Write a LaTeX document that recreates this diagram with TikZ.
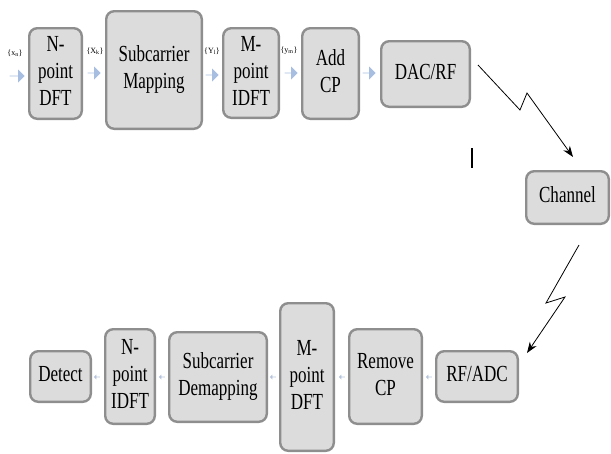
\documentclass[tikz,border=0pt]{standalone}
\usepackage{fontspec}
\setmainfont{LiberationSerif}[Extension=.ttf, UprightFont=*-Regular, BoldFont=*-Bold, ItalicFont=*-Italic, BoldItalicFont=*-BoldItalic]
\usepackage{graphicx}
\usepackage{tikz}
\usetikzlibrary{shapes.arrows}
\usetikzlibrary{arrows.meta}
\definecolor{boxfill}{HTML}{DCDCDC}
\definecolor{boxline}{HTML}{8E8E8E}
\definecolor{flowblue}{HTML}{A7BEE0}
\definecolor{backblue}{HTML}{B4C4DC}
% narrow the box captions
\newcommand{\squeeze}[1]{\scalebox{0.74}[1]{\begin{tabular}{@{}c@{}}#1\end{tabular}}}
\tikzset{block/.style={rounded corners=8pt, draw=boxline, fill=boxfill, line width=2.4pt, align=center, inner sep=0pt, font=\fontsize{23}{27}\selectfont}}
\tikzset{flow/.style={single arrow, fill=flowblue, draw=none, inner sep=0pt, minimum height=13pt, minimum width=13pt, single arrow head extend=2.5pt}}
\tikzset{backflow/.style={single arrow, fill=backblue, draw=none, inner sep=0pt, minimum height=6pt, minimum width=5pt, single arrow head extend=1pt, shape border rotate=180}}
\tikzset{sig/.style={font=\fontsize{8}{9}\selectfont}}

\begin{document}
\begin{tikzpicture}[x=1pt,y=-1pt]
    \useasboundingbox (0,0) rectangle (611,453);
    % transmitter chain
    \foreach \x/\y/\w/\h/\lab/\tx in {
      55.5/73.5/55/93/ndft/{N-\\point\\DFT},
      154/70/98/120/map/{Subcarrier\\Mapping},
      251/73/58/92/midft/{M-\\point\\IDFT},
      330.5/73.5/59/93/addcp/{Add\\CP},
      425.5/74/91/68/dac/{DAC/RF},
      567.5/197.5/85/55/chan/{Channel}%
    } {
      \node[block, minimum width=\w pt-2.4pt, minimum height=\h pt-2.4pt] (\lab) at (\x, \y) {\squeeze{\tx}};
    }
    % receiver chain
    \foreach \x/\y/\w/\h/\lab/\tx in {
      60.5/376.5/63/53/detect/{Detect},
      130/376.5/52/97/nidft/{N-\\point\\IDFT},
      218/377/100/92/demap/{Subcarrier\\Demapping},
      307/377/56/150/mdft/{M-\\point\\DFT},
      385.5/376.5/75/97/remcp/{Remove\\CP},
      477/376.5/84/53/rfadc/{RF/ADC}%
    } {
      \node[block, minimum width=\w pt-2.4pt, minimum height=\h pt-2.4pt] (\lab) at (\x, \y) {\squeeze{\tx}};
    }
    % forward arrows and signal names
    \node[flow, minimum height=15pt] (f0) at (17,76) {};
    \node[flow] (f1) at (94,73) {};
    \node[flow] (f2) at (212,75) {};
    \node[flow] (f3) at (291,73) {};
    \node[flow] (f4) at (369,73) {};
    \node[sig] (xn) at (15,53) {\{x\textsubscript{n}\}};
    \node[sig] (xk) at (95,51) {\{X\textsubscript{k}\}};
    \node[sig] (yl) at (212,51) {\{Y\textsubscript{l}\}};
    \node[sig] (ym) at (289,51) {\{y\textsubscript{m}\}};
    % backward arrows
    \foreach \x/\lab in {97/b0, 162/b1, 273/b2, 342/b3, 429/b4} {
      \node[backflow] (\lab) at (\x, 377) {};
    }
    % radio links
    \coordinate (txout) at (478,65);
    \coordinate (chin) at (573,157);
    \coordinate (chout) at (579,245);
    \coordinate (rxin) at (527,353);
    \draw[line width=0.8pt, -{Stealth[length=11pt, width=8pt]}] (txout) -- (520,110) -- (527,93) -- (chin);
    \draw[line width=0.8pt, -{Stealth[length=11pt, width=8pt]}] (chout) -- (546,303) -- (565,297) -- (rxin);
    \draw[line width=1.2pt] (472,148) -- (472,168);
\end{tikzpicture}
\end{document}
